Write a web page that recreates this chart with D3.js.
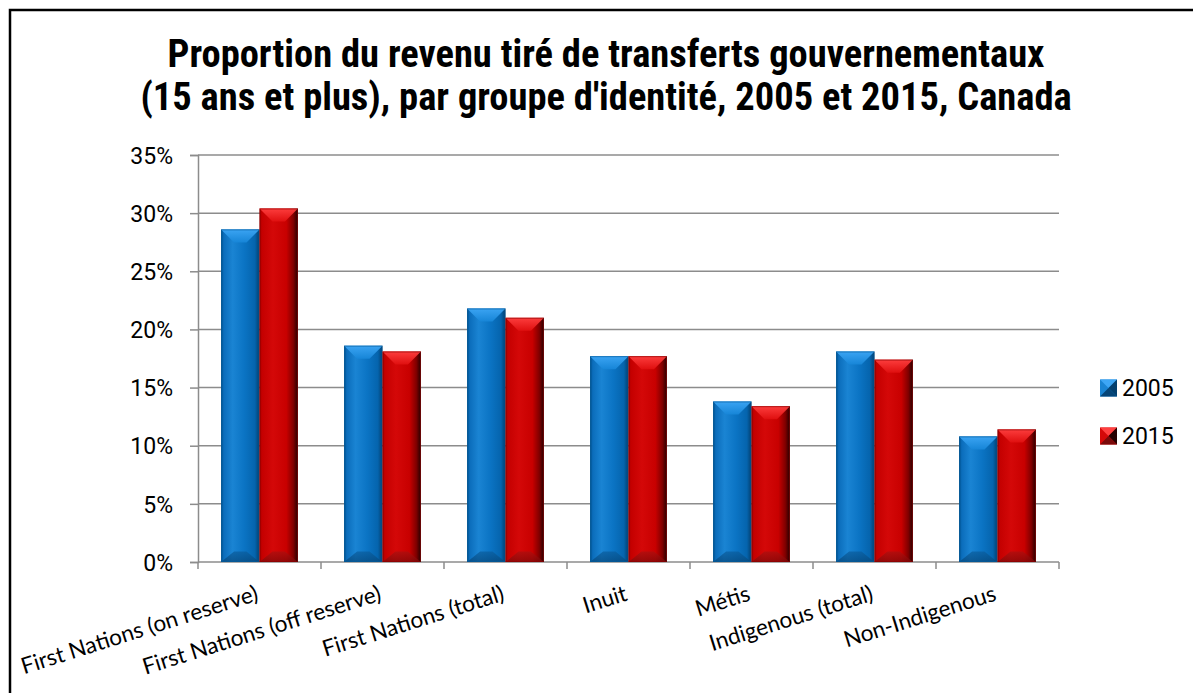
<!DOCTYPE html>
<html>
<head>
<meta charset="utf-8">
<script src="https://cdn.jsdelivr.net/npm/d3@7/dist/d3.min.js"></script>
<style>
  html, body { margin: 0; padding: 0; background: #fff; overflow: hidden; }
  svg { display: block; }
</style>
</head>
<body>
<svg id="chart" width="1193" height="693"></svg>
<script>
const titleLines = [
  "Proportion du revenu tiré de transferts gouvernementaux",
  "(15 ans et plus), par groupe d'identité, 2005 et 2015, Canada"
];
const categories = [
  "First Nations (on reserve)",
  "First Nations (off reserve)",
  "First Nations (total)",
  "Inuit",
  "Métis",
  "Indigenous (total)",
  "Non-Indigenous"
];
const seriesNames = ["2005", "2015"];
const values2005 = [0.286, 0.186, 0.218, 0.177, 0.138, 0.181, 0.108];
const values2015 = [0.304, 0.181, 0.210, 0.177, 0.134, 0.174, 0.114];
const yTicks = [0, 0.05, 0.10, 0.15, 0.20, 0.25, 0.30, 0.35];

const rows = categories.map((c, i) => ({ category: c, values: [values2005[i], values2015[i]] }));

const svg = d3.select("#chart");
const margin = { left: 198, right: 1059, top: 155, bottom: 562 };
const gridColor = "#8c8c8c";
const narrow = "'Liberation Sans Narrow', 'Arial Narrow', 'Roboto Condensed', sans-serif";
const numFont = "Roboto, 'Liberation Sans', sans-serif";
const labelFont = "Lato, 'Open Sans', sans-serif";

const x = d3.scaleBand().domain(categories).range([margin.left, margin.right]).paddingInner(0).paddingOuter(0);
const groupWidth = x.bandwidth() * 0.625;
const xs = d3.scaleBand().domain(seriesNames).range([0, groupWidth]);
const y = d3.scaleLinear().domain([0, 0.35]).range([margin.bottom, margin.top]);

// gradients for the bevelled bars
const defs = svg.append("defs");
const palettes = {
  "2005": {
    body: [[0, "#004f8a"], [0.07, "#0b6dbb"], [0.3, "#1a84d3"], [0.6, "#0b74c4"], [0.88, "#0564ad"], [1, "#033f6e"]],
    top: ["#3da6f5", "#1786d8"],
    bottom: ["#0a5c9c", "#064577"]
  },
  "2015": {
    body: [[0, "#9a0000"], [0.06, "#c40000"], [0.35, "#d40808"], [0.7, "#c80000"], [0.88, "#800000"], [1, "#250000"]],
    top: ["#ff4040", "#e01010"],
    bottom: ["#a81010", "#7a0a0a"]
  }
};
Object.entries(palettes).forEach(([name, p]) => {
  const body = defs.append("linearGradient").attr("id", "body" + name).attr("x1", 0).attr("x2", 1).attr("y1", 0).attr("y2", 0);
  p.body.forEach(([o, c]) => body.append("stop").attr("offset", o).attr("stop-color", c));
  const top = defs.append("linearGradient").attr("id", "top" + name).attr("x1", 0).attr("x2", 0).attr("y1", 0).attr("y2", 1);
  top.append("stop").attr("offset", 0).attr("stop-color", p.top[0]);
  top.append("stop").attr("offset", 1).attr("stop-color", p.top[1]);
  const bot = defs.append("linearGradient").attr("id", "bot" + name).attr("x1", 0).attr("x2", 0).attr("y1", 0).attr("y2", 1);
  bot.append("stop").attr("offset", 0).attr("stop-color", p.bottom[0]);
  bot.append("stop").attr("offset", 1).attr("stop-color", p.bottom[1]);
});

// outer frame
svg.append("rect")
  .attr("x", 10).attr("y", 10)
  .attr("width", 1200).attr("height", 700)
  .attr("fill", "none").attr("stroke", "#000").attr("stroke-width", 2.5);

// title
svg.append("g")
  .selectAll("text")
  .data(titleLines)
  .join("text")
  .attr("x", 606)
  .attr("y", (d, i) => 67 + i * 43)
  .attr("text-anchor", "middle")
  .attr("font-family", narrow)
  .attr("font-weight", "bold")
  .attr("font-size", 38.5)
  .attr("fill", "#000")
  .text((d) => d);

// gridlines
svg.append("g")
  .selectAll("line")
  .data(yTicks.slice(1))
  .join("line")
  .attr("x1", margin.left).attr("x2", margin.right)
  .attr("y1", (d) => y(d)).attr("y2", (d) => y(d))
  .attr("stroke", gridColor).attr("stroke-width", 1.5);

// y axis
const yAxis = svg.append("g")
  .attr("transform", `translate(${margin.left},0)`)
  .call(d3.axisLeft(y).tickValues(yTicks).tickFormat(d3.format(".0%")).tickSize(8).tickPadding(17));
yAxis.select(".domain").attr("stroke", gridColor).attr("stroke-width", 1.5);
yAxis.selectAll(".tick line").attr("stroke", gridColor).attr("stroke-width", 1.5);
yAxis.selectAll(".tick text")
  .attr("font-family", numFont).attr("font-size", 23).attr("fill", "#000").attr("dy", "0.36em");

// x axis
const xAxis = svg.append("g")
  .attr("transform", `translate(0,${margin.bottom})`);
xAxis.append("line")
  .attr("x1", margin.left).attr("x2", margin.right)
  .attr("stroke", gridColor).attr("stroke-width", 1.5);
xAxis.selectAll("line.tick")
  .data(categories.concat([null]))
  .join("line")
  .attr("class", "tick")
  .attr("x1", (d) => d ? x(d) : margin.right)
  .attr("x2", (d) => d ? x(d) : margin.right)
  .attr("y1", 0).attr("y2", 7)
  .attr("stroke", gridColor).attr("stroke-width", 1.5);
xAxis.selectAll("text")
  .data(categories)
  .join("text")
  .attr("transform", (d) => `translate(${x(d) + x.bandwidth() / 2},38) rotate(-17.5)`)
  .attr("text-anchor", "end")
  .attr("font-family", labelFont)
  .attr("font-size", 22.5)
  .attr("fill", "#000")
  .text((d) => d);

// bars
function drawBevelBar(g, x0, w, yTop, yBase, name) {
  const h = yBase - yTop;
  const b = Math.min(13, h / 2, w / 2);
  g.append("rect")
    .attr("x", x0).attr("y", yTop).attr("width", w).attr("height", h)
    .attr("fill", `url(#body${name})`);
  g.append("polygon")
    .attr("points", [[x0, yTop], [x0 + w, yTop], [x0 + w - b, yTop + b], [x0 + b, yTop + b]].join(" "))
    .attr("fill", `url(#top${name})`).attr("opacity", 0.95);
  g.append("polygon")
    .attr("points", [[x0, yBase], [x0 + w, yBase], [x0 + w - b, yBase - b * 0.8], [x0 + b, yBase - b * 0.8]].join(" "))
    .attr("fill", `url(#bot${name})`).attr("opacity", 0.7);
  g.append("rect")
    .attr("x", x0 + 0.5).attr("y", yTop + 0.5).attr("width", w - 1).attr("height", h - 1)
    .attr("fill", "none").attr("stroke", name === "2005" ? "#035a99" : "#8a0000").attr("stroke-width", 1).attr("opacity", 0.6);
}

const groups = svg.append("g")
  .selectAll("g")
  .data(rows)
  .join("g")
  .attr("transform", (d) => `translate(${x(d.category) + (x.bandwidth() - groupWidth) / 2},0)`);
groups.each(function (d) {
  const g = d3.select(this);
  seriesNames.forEach((s, i) => {
    drawBevelBar(g.append("g"), xs(s), xs.bandwidth(), y(d.values[i]), y(0), s);
  });
});

// legend
const legend = svg.append("g")
  .selectAll("g")
  .data(seriesNames)
  .join("g")
  .attr("transform", (d, i) => `translate(1100,${388 + i * 48})`);
legend.each(function (s) {
  const g = d3.select(this);
  const sz = 17, h = sz / 2;
  const p = palettes[s];
  g.append("rect").attr("x", 0).attr("y", -h).attr("width", sz).attr("height", sz).attr("fill", p.body[2][1]);
  g.append("polygon").attr("points", [[0, -h], [sz, -h], [h, 0]].join(" ")).attr("fill", p.top[0]);
  g.append("polygon").attr("points", [[sz, -h], [sz, h], [h, 0]].join(" ")).attr("fill", p.body[5][1]);
  g.append("polygon").attr("points", [[0, h], [sz, h], [h, 0]].join(" ")).attr("fill", p.bottom[1]);
  g.append("text")
    .attr("x", 22).attr("y", 0).attr("dy", "0.36em")
    .attr("font-family", numFont).attr("font-size", 23).attr("fill", "#000")
    .text(s);
});
</script>
</body>
</html>
